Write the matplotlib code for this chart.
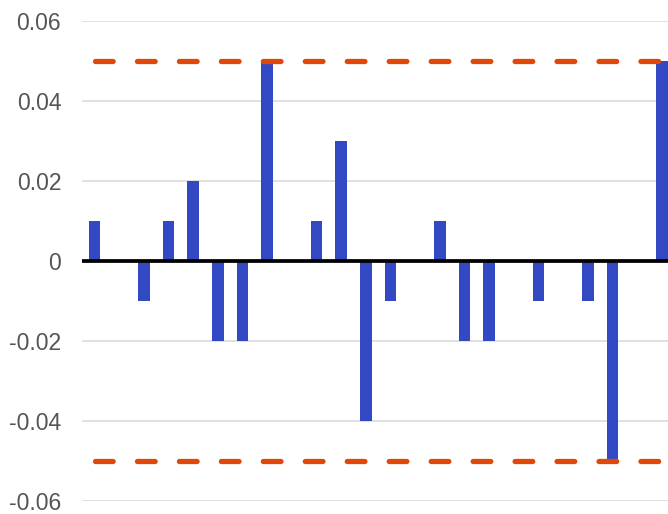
import matplotlib
matplotlib.use("Agg")
import matplotlib.pyplot as plt

# Daily deviations and the tolerance band
positions = list(range(24))
values = [0.01, 0.0, -0.01, 0.01, 0.02, -0.02, -0.02, 0.05, 0.0, 0.01, 0.03, -0.04,
          -0.01, 0.0, 0.01, -0.02, -0.02, 0.0, -0.01, 0.0, -0.01, -0.05, 0.0, 0.05]
upper_limit = [0.05] * len(positions)
lower_limit = [-0.05] * len(positions)
y_ticks = [-0.06, -0.04, -0.02, 0, 0.02, 0.04, 0.06]
y_tick_labels = ["-0.06", "-0.04", "-0.02", "0", "0.02", "0.04", "0.06"]

plt.rcParams["font.family"] = ["Liberation Sans", "DejaVu Sans"]

fig = plt.figure(figsize=(6.68, 5.14), dpi=100)
ax = fig.add_axes([82 / 668, 13 / 514, 586 / 668, 480 / 514])

ax.bar(positions, values, width=0.48, color="#3349C4", zorder=3)
dash = (0, (3.35, 4.6))
for limit in (upper_limit, lower_limit):
    ax.plot(positions, limit, color="#E0480A", lw=3.8, ls=dash,
            dash_capstyle="round", solid_capstyle="round", zorder=4)
ax.axhline(0, color="black", lw=2.7, zorder=5)

ax.set_xlim(-0.51, 23.25)
ax.set_ylim(-0.06, 0.06)
ax.set_yticks(y_ticks)
ax.set_yticklabels(y_tick_labels)
ax.set_xticks([])
ax.grid(axis="y", color="#DADADA", lw=1.2, zorder=0)
ax.tick_params(axis="y", length=0, pad=15, labelsize=16.5, labelcolor="#555555")
for side in ax.spines.values():
    side.set_visible(False)

fig.savefig("out.png", dpi=100)
